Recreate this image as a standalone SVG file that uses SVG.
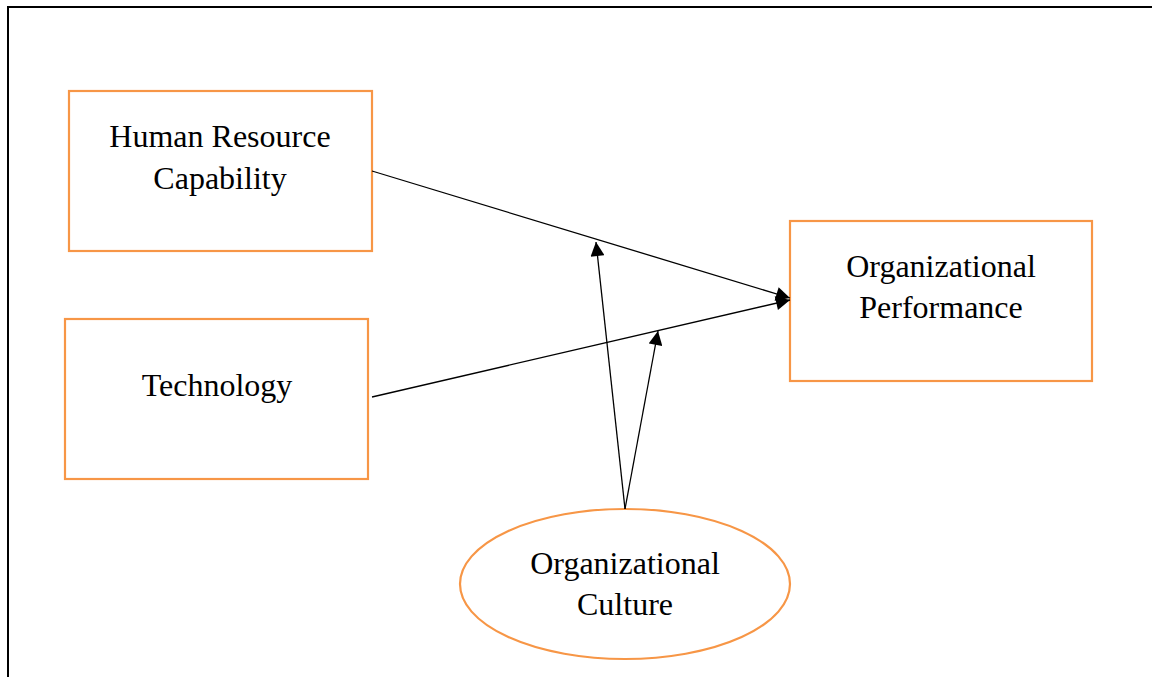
<svg xmlns="http://www.w3.org/2000/svg" width="1152" height="677" viewBox="0 0 1152 677">
<style>
.box{fill:#fff;stroke:#F79646;stroke-width:2.2}
.t{font-family:"Liberation Serif","Times New Roman",serif;font-size:32px;fill:#000;text-anchor:middle}
.c{stroke:#000;stroke-width:1.3;fill:none}
</style>
<defs>
<marker id="ah" viewBox="0 0 10 10" refX="10" refY="5" markerWidth="15" markerHeight="14" markerUnits="userSpaceOnUse" orient="auto">
<path d="M0,0 L10,5 L0,10 z" fill="#000"/>
</marker>
</defs>
<rect width="1152" height="677" fill="#fff"/>
<path d="M8,677 V7 H1152" fill="none" stroke="#000" stroke-width="2"/>
<g id="hrc">
<rect class="box" x="69" y="91" width="303" height="160"/>
<text class="t" x="220" y="147">Human Resource</text>
<text class="t" x="220" y="189">Capability</text>
</g>
<g id="tech">
<rect class="box" x="65" y="319" width="303" height="160"/>
<text class="t" x="217" y="396">Technology</text>
</g>
<g id="op">
<rect class="box" x="790" y="221" width="302" height="160"/>
<text class="t" x="941" y="277">Organizational</text>
<text class="t" x="941" y="318">Performance</text>
</g>
<g id="oc">
<ellipse class="box" cx="625" cy="584" rx="165" ry="75"/>
<text class="t" x="625" y="574">Organizational</text>
<text class="t" x="625" y="615">Culture</text>
</g>
<g id="connectors">
<line class="c" x1="372" y1="171" x2="790" y2="298" marker-end="url(#ah)"/>
<line class="c" x1="372" y1="397" x2="790" y2="300" marker-end="url(#ah)"/>
<line class="c" x1="625" y1="509" x2="596" y2="242" marker-end="url(#ah)"/>
<line class="c" x1="625" y1="509" x2="658" y2="331" marker-end="url(#ah)"/>
</g>
</svg>
